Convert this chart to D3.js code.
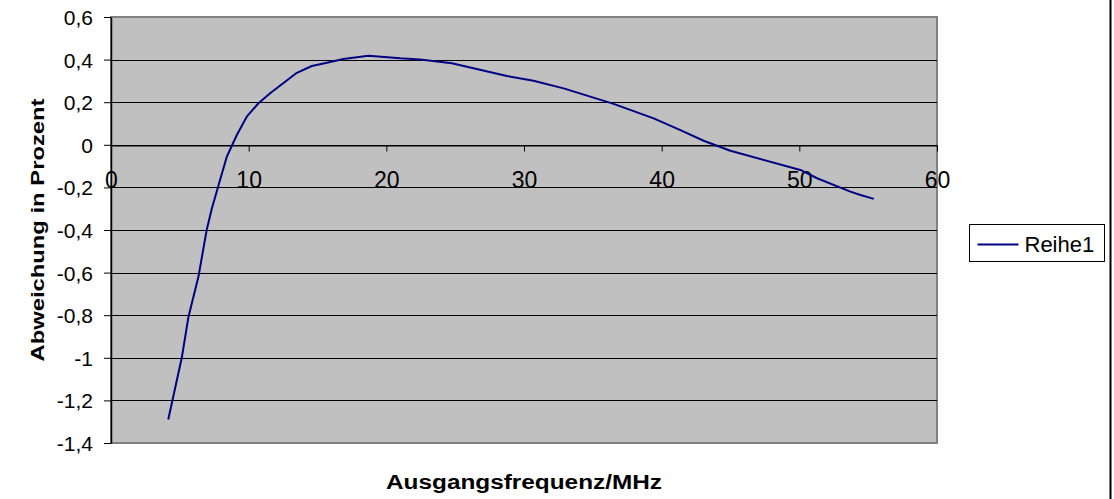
<!DOCTYPE html>
<html>
<head>
<meta charset="utf-8">
<script src="https://cdn.jsdelivr.net/npm/d3@7"></script>
<style>
    html, body { margin: 0; padding: 0; background: #fff; }
    svg { display: block; font-family: "Liberation Sans", Arial, sans-serif; }
</style>
</head>
<body>
<svg id="chart" width="1114" height="499"></svg>
<script>
// --- data ---
const freq = [4.16, 5.14, 5.62, 6.35, 6.95, 7.32, 7.9, 8.41, 9.14, 9.86, 10.71, 11.56,
    13.5, 14.59, 15.68, 16.88, 18.7, 21.0, 22.46, 24.76, 28.76, 30.69, 32.88,
    36.51, 39.42, 41.36, 43.05, 44.99, 50.08, 51.29, 53.71, 54.44, 55.41];
const deviation = [-1.29, -1.0, -0.81, -0.62, -0.4, -0.3, -0.17, -0.056, 0.046, 0.132, 0.195, 0.242,
    0.338, 0.37, 0.385, 0.403, 0.418, 0.406, 0.401, 0.383, 0.323, 0.301, 0.265,
    0.192, 0.124, 0.069, 0.019, -0.028, -0.118, -0.157, -0.22, -0.236, -0.254];
const xTicks = [0, 10, 20, 30, 40, 50, 60];
const yTicks = [-1.4, -1.2, -1, -0.8, -0.6, -0.4, -0.2, 0, 0.2, 0.4, 0.6];
const seriesName = "Reihe1";

document.addEventListener("DOMContentLoaded", () => {
    const svg = d3.select("#chart");
    const plot = { left: 111, top: 17, right: 937, bottom: 443 };

    const x = d3.scaleLinear().domain([0, 60]).range([plot.left, plot.right]);
    const y = d3.scaleLinear().domain([-1.4, 0.6]).range([plot.bottom, plot.top]);
    const fmt = (d) => String(+d.toFixed(1)).replace(".", ",");

    // plot background
    svg.append("rect")
        .attr("x", plot.left).attr("y", plot.top)
        .attr("width", plot.right - plot.left).attr("height", plot.bottom - plot.top)
        .attr("fill", "#c0c0c0")
        .attr("stroke", "#808080").attr("stroke-width", 2);

    // horizontal gridlines
    svg.append("g")
        .selectAll("line")
        .data(yTicks.filter((d) => d > -1.4 && d < 0.6))
        .join("line")
        .attr("x1", plot.left).attr("x2", plot.right)
        .attr("y1", (d) => Math.round(y(d)) + 0.5).attr("y2", (d) => Math.round(y(d)) + 0.5)
        .attr("stroke", "#000").attr("stroke-width", 1);

    // y axis
    const yAxis = svg.append("g")
        .attr("transform", `translate(${plot.left},0)`)
        .call(d3.axisLeft(y).tickValues(yTicks).tickFormat(fmt).tickSize(7).tickSizeOuter(0));
    yAxis.select(".domain").attr("stroke", "#000").attr("stroke-width", 1.5);
    yAxis.selectAll(".tick line").attr("stroke", "#000");
    yAxis.selectAll("text")
        .attr("x", -18).attr("dy", "0.36em")
        .attr("font-size", 21).attr("fill", "#000")
        .attr("font-family", "Liberation Sans, Arial, sans-serif");

    // x axis on the zero line
    const xAxis = svg.append("g")
        .attr("transform", `translate(0,${Math.round(y(0)) + 0.5})`)
        .call(d3.axisBottom(x).tickValues(xTicks).tickFormat((d) => d).tickSize(6).tickSizeOuter(0));
    xAxis.select(".domain").attr("stroke", "#000");
    xAxis.selectAll(".tick line").attr("stroke", "#000");
    xAxis.selectAll("text")
        .attr("y", 42).attr("dy", 0)
        .attr("font-size", 23).attr("fill", "#000")
        .attr("font-family", "Liberation Sans, Arial, sans-serif");

    // the curve
    const line = d3.line()
        .x((d, i) => x(freq[i]))
        .y((d) => y(d));
    svg.append("path")
        .datum(deviation)
        .attr("d", line)
        .attr("fill", "none")
        .attr("stroke", "#000080")
        .attr("stroke-width", 2)
        .attr("stroke-linejoin", "round");

    // axis titles
    svg.append("text")
        .attr("x", (plot.left + plot.right) / 2).attr("y", 489)
        .attr("text-anchor", "middle")
        .attr("font-size", 20).attr("font-weight", "bold")
        .attr("textLength", 276).attr("lengthAdjust", "spacingAndGlyphs")
        .text("Ausgangsfrequenz/MHz");

    svg.append("text")
        .attr("transform", `translate(44,${(plot.top + plot.bottom) / 2}) rotate(-90)`)
        .attr("text-anchor", "middle")
        .attr("font-size", 19).attr("font-weight", "bold")
        .attr("textLength", 263).attr("lengthAdjust", "spacingAndGlyphs")
        .text("Abweichung in Prozent");

    // legend
    const legend = svg.append("g").attr("transform", "translate(969.5,224.5)");
    legend.append("rect")
        .attr("width", 135).attr("height", 37)
        .attr("fill", "#fff").attr("stroke", "#000");
    legend.append("line")
        .attr("x1", 8).attr("x2", 49).attr("y1", 20).attr("y2", 20)
        .attr("stroke", "#000080").attr("stroke-width", 2);
    legend.append("text")
        .attr("x", 55).attr("y", 27)
        .attr("font-size", 22)
        .text(seriesName);

    // outer chart border on the right
    svg.append("line")
        .attr("x1", 1110.5).attr("x2", 1110.5).attr("y1", 0).attr("y2", 499)
        .attr("stroke", "#000").attr("stroke-width", 2);
});
</script>
</body>
</html>
